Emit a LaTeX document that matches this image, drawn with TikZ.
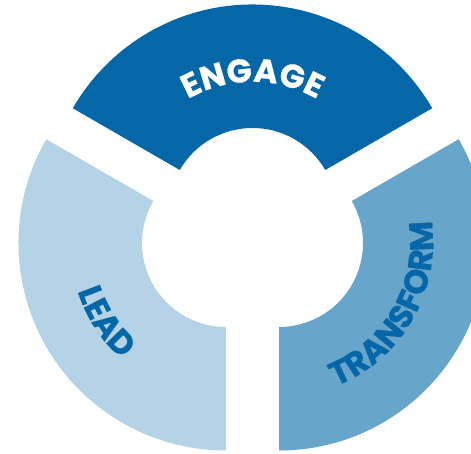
\documentclass[tikz,border=0pt]{standalone}
\usepackage{fontspec}
\usetikzlibrary{calc,decorations.text}
\newfontfamily\engfont[LetterSpace=17,FakeBold=0.5]{Poppins}
\newfontfamily\leadfont[LetterSpace=6,FakeBold=0.5]{Poppins}
\newfontfamily\transfont[LetterSpace=2,FakeBold=0.5]{Poppins}
\definecolor{engageblue}{HTML}{0567A8}
\definecolor{transformblue}{HTML}{67A5CB}
\definecolor{leadblue}{HTML}{B4D3E6}
\tikzset{
  ringlabel/.style={decorate, decoration={text along path, text align=center}},
}
\def\Ro{207.5}
\def\Ri{84}
\begin{document}
\begin{tikzpicture}[x=1pt,y=1pt]
  \useasboundingbox (0,0) rectangle (471,453);
  \clip (0,0) rectangle (471,453);
  % centres of the three shifted ring segments
  \coordinate (cE) at (252.5,241);
  \coordinate (cL) at (226,210);
  \coordinate (cT) at (279,210);
  % ENGAGE segment (top)
  \fill[engageblue] ($(cE)+(30:\Ro)$) arc[start angle=30,end angle=150,radius=\Ro]
    -- ($(cE)+(150:\Ri)$) arc[start angle=150,end angle=30,radius=\Ri] -- cycle;
  % LEAD segment (lower left)
  \fill[leadblue] ($(cL)+(150:\Ro)$) arc[start angle=150,end angle=270,radius=\Ro]
    -- ($(cL)+(270:\Ri)$) arc[start angle=270,end angle=150,radius=\Ri] -- cycle;
  % TRANSFORM segment (lower right)
  \fill[transformblue] ($(cT)+(-90:\Ro)$) arc[start angle=-90,end angle=30,radius=\Ro]
    -- ($(cT)+(30:\Ri)$) arc[start angle=30,end angle=-90,radius=\Ri] -- cycle;
  % curved labels
  \path[ringlabel, decoration={text={|\engfont\bfseries\fontsize{33}{33}\selectfont\color{white}|ENGAGE}}]
    ($(cE)+(150:130)$) arc[start angle=150,end angle=30,radius=130];
  \path[ringlabel, decoration={text={|\leadfont\bfseries\fontsize{33}{33}\selectfont\color{engageblue}|LEAD}}]
    ($(cL)+(153:156)$) arc[start angle=153,end angle=273,radius=156];
  \path[ringlabel, decoration={text={|\transfont\bfseries\fontsize{33}{33}\selectfont\color{engageblue}|TRANSFORM}}]
    ($(cT)+(-90:154)$) arc[start angle=-90,end angle=30,radius=154];
\end{tikzpicture}
\end{document}
